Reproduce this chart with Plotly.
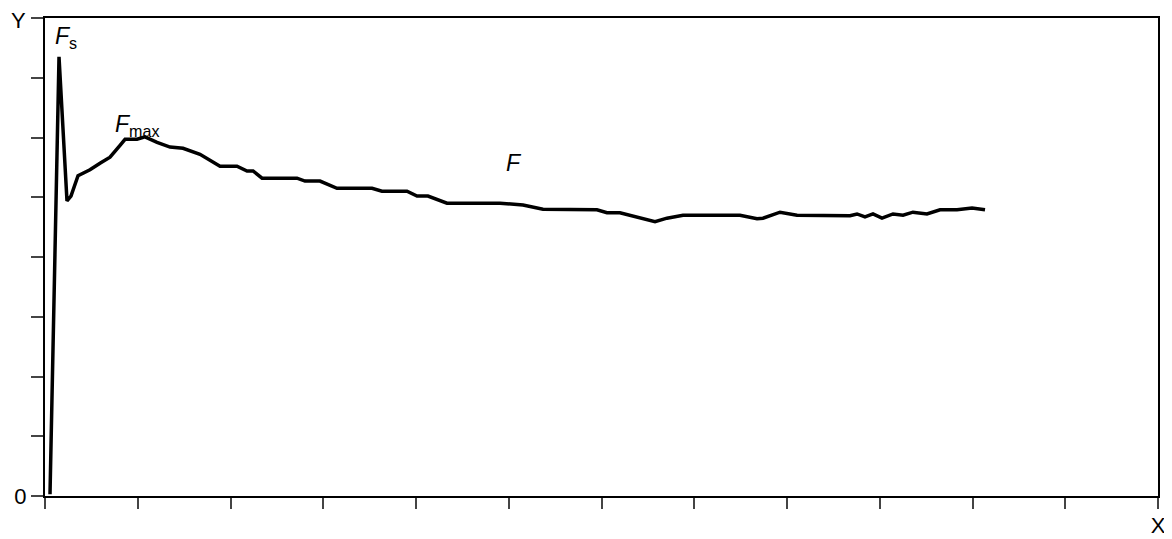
import plotly.graph_objects as go

# Force curve data (x in axis units, y in axis units)
x_vals = [0.054, 0.151, 0.237, 0.28, 0.356, 0.485, 0.593, 0.701, 0.809, 0.863,
          0.992, 1.078, 1.208, 1.348, 1.488, 1.671, 1.887, 2.07, 2.178, 2.243,
          2.34, 2.717, 2.803, 2.965, 3.148, 3.526, 3.633, 3.903, 4.011, 4.129,
          4.334, 4.906, 5.154, 5.369, 5.951, 6.059, 6.199, 6.577, 6.706, 6.879,
          7.493, 7.677, 7.741, 7.925, 8.108, 8.431, 8.679, 8.755, 8.841, 8.927,
          9.024, 9.143, 9.251, 9.358, 9.509, 9.650, 9.833, 9.995, 10.135]
y_vals = [0.03, 7.35, 4.94, 5.02, 5.36, 5.46, 5.57, 5.67, 5.87, 5.97,
          5.97, 6.01, 5.92, 5.84, 5.82, 5.72, 5.52, 5.52, 5.44, 5.44,
          5.32, 5.32, 5.27, 5.27, 5.15, 5.15, 5.10, 5.10, 5.02, 5.02,
          4.90, 4.90, 4.87, 4.80, 4.79, 4.74, 4.74, 4.59, 4.65, 4.70,
          4.70, 4.64, 4.65, 4.75, 4.70, 4.69, 4.69, 4.72, 4.67, 4.72,
          4.65, 4.72, 4.70, 4.75, 4.72, 4.79, 4.79, 4.82, 4.79]

x_ticks = list(range(0, 13))
x_labels = [""] * 12 + ["X"]
y_ticks = list(range(0, 9))
y_labels = ["0"] + [""] * 8
y_axis_name = "Y"

fig = go.Figure()
fig.add_trace(go.Scatter(x=x_vals, y=y_vals, mode="lines",
                         line=dict(color="black", width=3.5),
                         showlegend=False, hoverinfo="skip"))

font_family = "Liberation Sans"

fig.add_annotation(x=0.226, y=7.67, text="<i>F</i><sub>s</sub>", showarrow=False,
                   font=dict(family=font_family, size=23, color="black"))
fig.add_annotation(x=0.99, y=6.2, text="<i>F</i><sub>max</sub>", showarrow=False,
                   font=dict(family=font_family, size=23, color="black"))
fig.add_annotation(x=5.057, y=5.57, text="<i>F</i>", showarrow=False,
                   font=dict(family=font_family, size=23, color="black"))
# axis name at the top end of the y axis
fig.add_annotation(x=0, xref="paper", y=1, yref="paper", text=y_axis_name,
                   showarrow=False, xanchor="right", yanchor="middle",
                   xshift=-17, yshift=-2,
                   font=dict(family=font_family, size=22, color="black"))

fig.update_xaxes(range=[0, 12], tickvals=x_ticks, ticktext=x_labels,
                 showgrid=False, zeroline=False, showline=True, linecolor="black",
                 linewidth=2, mirror=True, ticks="outside", ticklen=11,
                 tickwidth=2, tickcolor="#444", automargin=False,
                 ticklabeloverflow="allow", ticklabelstandoff=-2,
                 tickfont=dict(family=font_family, size=22, color="black"))
fig.update_yaxes(range=[0, 8], tickvals=y_ticks, ticktext=y_labels,
                 showgrid=False, zeroline=False, showline=True, linecolor="black",
                 linewidth=2, mirror=True, ticks="outside", ticklen=12,
                 tickwidth=2, tickcolor="#444", automargin=False,
                 ticklabeloverflow="allow",
                 tickfont=dict(family=font_family, size=22, color="black"))

# page body adds an 8px offset; size the figure so the plot area lands in place
fig.update_layout(width=1164, height=531,
                  margin=dict(l=37, r=14, t=10, b=43),
                  plot_bgcolor="white", paper_bgcolor="white")

fig.write_html("out.html")
